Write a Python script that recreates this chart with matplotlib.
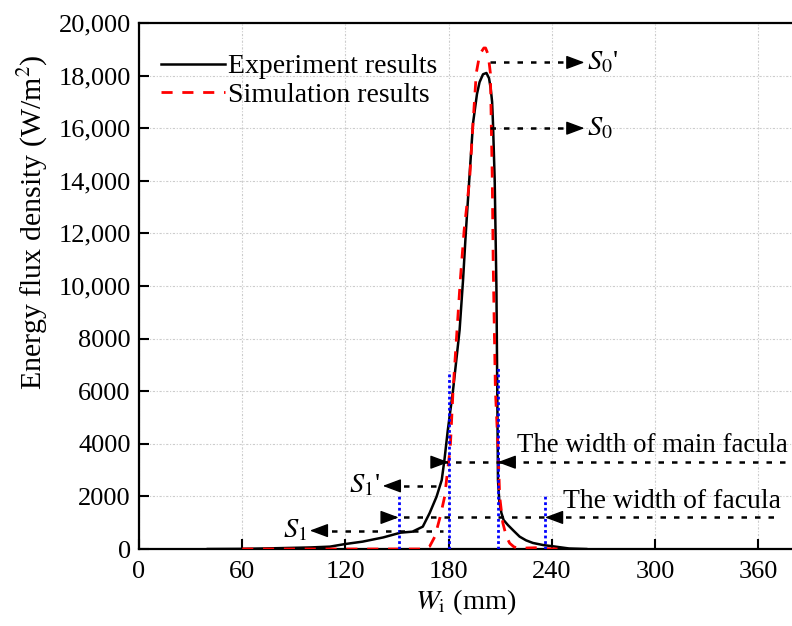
import numpy as np
import matplotlib
matplotlib.use("Agg")
from matplotlib import pyplot as plt
from matplotlib.ticker import FuncFormatter

plt.rcParams['font.family'] = ['Liberation Serif', 'DejaVu Serif']
plt.rcParams['mathtext.fontset'] = 'stix'

# dane
exp_x = [40, 60, 80, 100, 111, 120, 130, 142, 152, 159, 165, 169, 173, 176, 177.6, 179.5,
         182.6, 186.4, 188.4, 190, 192, 194.2, 196.5, 198, 200, 202, 203.5, 204.5, 205.3,
         205.8, 206.8, 207.8, 208.3, 208.7, 209.5, 210.7, 212, 214.5, 218, 221.3, 225, 229,
         235, 241, 250, 260]
exp_y = [0, 5, 30, 60, 90, 190, 280, 440, 620, 660, 850, 1370, 1990, 2620, 3400, 4500,
         6050, 8330, 10230, 12020, 14030, 16190, 17300, 17750, 18050, 18100, 17900, 17500,
         17000, 16200, 14030, 9970, 6000, 2620, 1800, 1370, 1100, 910, 680, 470, 330, 230,
         150, 100, 20, 0]

sim_x = [60, 100, 140, 160, 166, 169, 172, 175, 177.7, 181, 182.6, 184.9, 186.8, 189,
         192.2, 194.2, 196.1, 197.5, 199, 200.5, 201.5, 203, 204.3, 204.8, 205.4, 205.9,
         206.4, 207.2, 208.7, 209.7, 211.5, 213.6, 215.5, 218, 221, 226, 232, 238, 245]
sim_y = [0, 0, 0, 0, 0, 100, 470, 1200, 1990, 3890, 6050, 8330, 10230, 12100,
         14030, 16190, 18100, 18600, 18900, 19050, 19050, 18800, 18090, 16190, 14030, 11000,
         9000, 6050, 3890, 1990, 1000, 470, 220, 80, 20, 40, 50, 10, 0]

# pionowe linie (szerokosc plamki)
blue_x = [151, 180, 208.5, 236]
blue_top = [2050, 6750, 6900, 2050]

x_ticks = [0, 60, 120, 180, 240, 300, 360]
y_ticks = list(range(0, 20001, 2000))

fig = plt.figure(figsize=(7.92, 6.26), dpi=100)
ax = fig.add_axes([139 / 792, 77 / 626, 688 / 792, 526 / 626])

ax.plot(exp_x, exp_y, color='k', lw=1.8, label='Experiment results', zorder=3)
ax.plot(sim_x, sim_y, color='#ff0000', lw=2.0, linestyle=(0, (4, 3.5)),
        label='Simulation results', zorder=3)

for bx, bt in zip(blue_x, blue_top):
    ax.plot([bx, bx], [0, bt], color='#0000ff', lw=2.0, linestyle=(0, (1, 1)), zorder=4)

dot = (0, (2.2, 3.2))


def strzalka(ax, tip, y, kierunek):
    # sam grot strzalki, kierunek +1 w prawo, -1 w lewo
    ax.annotate('', xy=(tip, y), xytext=(-11 * kierunek, 0), textcoords='offset points',
                arrowprops=dict(arrowstyle='-|>,head_length=0.75,head_width=0.28',
                                color='k', lw=1.0, shrinkA=0, shrinkB=0,
                                mutation_scale=15), zorder=5)


# S0' i S0
for yy in [18500, 16000]:
    ax.plot([204, 252], [yy, yy], color='k', lw=1.8, linestyle=dot, zorder=5)
    strzalka(ax, 259, yy, 1)
ax.text(260.5, 18500, r"$S_0$'", fontsize=20.5, ha='left', va='center')
ax.text(260.5, 16000, r"$S_0$", fontsize=20.5, ha='left', va='center')

# szerokosc glownej plamki
ax.plot([176, 400], [3300, 3300], color='k', lw=1.8, linestyle=dot, zorder=5)
strzalka(ax, 180, 3300, 1)
strzalka(ax, 208.5, 3300, -1)
ax.text(219.5, 3950, 'The width of main facula', fontsize=19.3, ha='left', va='center')

# szerokosc plamki
ax.plot([146, 372], [1200, 1200], color='k', lw=1.8, linestyle=dot, zorder=5)
strzalka(ax, 151, 1200, 1)
strzalka(ax, 236, 1200, -1)
ax.text(246.5, 1800, 'The width of facula', fontsize=20, ha='left', va='center')

# S1 i S1'
ax.plot([104, 177], [700, 700], color='k', lw=1.8, linestyle=dot, zorder=5)
strzalka(ax, 99.3, 700, -1)
ax.text(98, 700, r"$S_1$", fontsize=20.5, ha='right', va='center')
ax.plot([146, 177], [2400, 2400], color='k', lw=1.8, linestyle=dot, zorder=5)
strzalka(ax, 141.7, 2400, -1)
ax.text(140.5, 2400, r"$S_1$'", fontsize=20.5, ha='right', va='center')

ax.set_xlim(0, 400)
ax.set_ylim(0, 20000)
ax.set_xticks(x_ticks)
ax.set_yticks(y_ticks)
ax.yaxis.set_major_formatter(FuncFormatter(lambda v, p: f'{int(v):,}' if v >= 10000 else f'{int(v)}'))
ax.tick_params(direction='in', length=7, width=1.5, labelsize=19)
ax.tick_params(axis='x', pad=9)
ax.tick_params(axis='y', pad=6)
ax.grid(True, color='#cccccc', lw=0.8, linestyle=(0, (2, 1.5, 1, 1.5)))
ax.set_axisbelow(True)
for s in ['left', 'bottom', 'top']:
    ax.spines[s].set_linewidth(1.6)
ax.spines['right'].set_visible(False)

ax.set_xlabel(r'$W_{\mathrm{i}}$ (mm)', fontsize=20.5)
ax.xaxis.set_label_coords((466 - 139) / 688, -0.072)
ax.set_ylabel(r'Energy flux density (W/m$^2$)', fontsize=21.5)
ax.yaxis.set_label_coords((50 - 139) / 688, (549 - 222) / 526)

ax.legend(loc='upper left', bbox_to_anchor=(0.004, 0.978), frameon=False, fontsize=20,
          handlelength=2.3, handletextpad=0.12, labelspacing=0.1, borderaxespad=0.3)

fig.savefig('out.png', dpi=100)
